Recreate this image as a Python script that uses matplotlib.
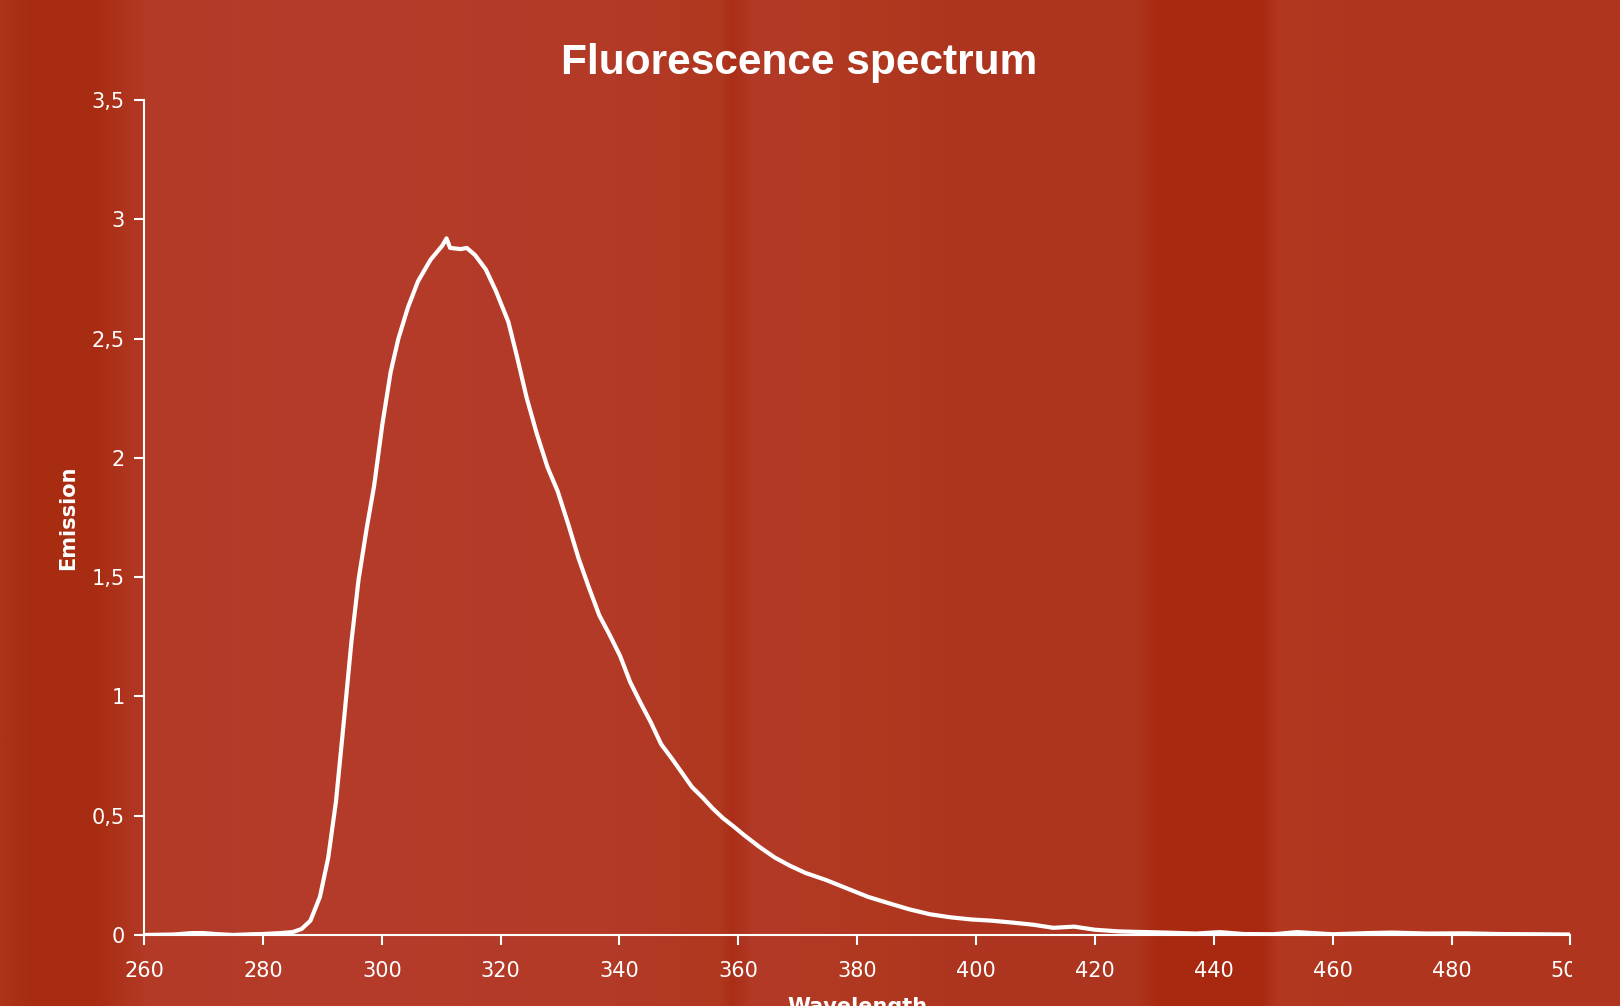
#!/usr/bin/env python3
"""Fluorescence spectrum on a red textured background"""

import numpy as np
import matplotlib
matplotlib.use("Agg")
import matplotlib.pyplot as plt
from matplotlib.colors import to_rgb
from matplotlib.transforms import Bbox, TransformedBbox

# wavelength (nm) and emission
wavelength = [260, 265, 268, 270, 272, 275, 278, 280, 283, 285, 286.5, 288,
              289.6, 291.0, 292.3, 293.6, 294.9, 296.1, 297.5, 298.7, 300.1,
              301.5, 302.8, 304.4, 306.1, 308.2, 310.2, 310.9, 311.5, 313.3,
              314.3, 315.7, 317.5, 319.2, 321.3, 322.7, 324.4, 326.1, 327.9,
              329.6, 331.4, 333.1, 334.8, 336.6, 338.3, 340.1, 341.8, 343.5,
              345.3, 347.0, 348.8, 350.5, 352.2, 354.0, 355.7, 357.4, 359.2,
              360.9, 363.5, 366.1, 368.7, 371.3, 374.8, 378.3, 381.8, 385.2,
              388.7, 392.2, 395.7, 399.2, 402.6, 406.1, 409.6, 413.0, 416.5,
              420, 424, 427, 432, 437, 441, 445, 450, 454, 460, 466, 470, 476,
              482, 488, 494, 500]
emission = [0.0, 0.002, 0.008, 0.008, 0.004, 0.0, 0.003, 0.004, 0.008, 0.012,
            0.025, 0.06, 0.16, 0.325, 0.56, 0.89, 1.23, 1.49, 1.71, 1.88, 2.14,
            2.36, 2.50, 2.63, 2.74, 2.83, 2.89, 2.92, 2.88, 2.875, 2.88, 2.85,
            2.79, 2.70, 2.57, 2.43, 2.25, 2.10, 1.96, 1.86, 1.72, 1.58, 1.46,
            1.34, 1.26, 1.17, 1.06, 0.975, 0.89, 0.80, 0.74, 0.68, 0.62, 0.576,
            0.53, 0.49, 0.455, 0.42, 0.37, 0.325, 0.29, 0.26, 0.23, 0.195,
            0.16, 0.134, 0.108, 0.087, 0.074, 0.065, 0.06, 0.052, 0.043, 0.03,
            0.035, 0.022, 0.015, 0.013, 0.01, 0.006, 0.012, 0.004, 0.003,
            0.012, 0.003, 0.008, 0.01, 0.006, 0.007, 0.004, 0.003, 0.002]

x_ticks = list(range(260, 501, 20))
y_ticks = [0, 0.5, 1, 1.5, 2, 2.5, 3, 3.5]
y_tick_labels = ["0", "0,5", "1", "1,5", "2", "2,5", "3", "3,5"]

# background colour bands (figure fraction, colour)
bg_stops = [(0.00, "#ad3418"), (0.02, "#a72c10"), (0.06, "#a92d12"),
            (0.09, "#b33a27"), (0.20, "#b53c2a"), (0.38, "#b33a27"),
            (0.445, "#b0381f"), (0.452, "#aa2e17"), (0.465, "#b33a27"),
            (0.55, "#b0381f"), (0.60, "#ad3520"), (0.70, "#ae3620"),
            (0.715, "#a82a10"), (0.78, "#a9290f"), (0.79, "#b3381f"),
            (0.85, "#b0351f"), (1.00, "#b0351f")]

fig = plt.figure(figsize=(16.2, 10.06), dpi=100)

# textured-ish background
bg = fig.add_axes([0, 0, 1, 1], zorder=-10)
cols = np.linspace(0, 1, 800)
pos = [p for p, _ in bg_stops]
rgb = np.array([to_rgb(c) for _, c in bg_stops])
img = np.stack([np.interp(cols, pos, rgb[:, k]) for k in range(3)], axis=-1)
bg.imshow(img[np.newaxis, :, :], aspect="auto", extent=[0, 1, 0, 1])
bg.set_axis_off()

ax = fig.add_axes([0.0889, 0.0706, 0.9694 - 0.0889, 0.9006 - 0.0706])
ax.patch.set_alpha(0)
ax.plot(wavelength, emission, color="white", lw=3, solid_joinstyle="round")

ax.set_xlim(260, 500)
ax.set_ylim(0, 3.5)
ax.set_xticks(x_ticks)
ax.set_yticks(y_ticks)
ax.set_yticklabels(y_tick_labels)

for side in ["top", "right"]:
    ax.spines[side].set_visible(False)
for side in ["left", "bottom"]:
    ax.spines[side].set_color("white")
    ax.spines[side].set_linewidth(1.5)
ax.tick_params(colors="white", labelsize=15, length=7, width=1.5, pad=7)
ax.tick_params(axis="x", pad=12)

ax.set_xlabel("Wavelength", color="white", fontsize=15, fontweight="bold")
ax.xaxis.set_label_coords(0.5, -0.074)
ax.xaxis.label.set_va("top")
ax.set_ylabel("Emission", color="white", fontsize=15, fontweight="bold")
ax.yaxis.set_label_coords(-0.046, 0.5)
fig.text(0.4935, 0.937, "Fluorescence spectrum", color="white", fontsize=30.5,
         fontweight="bold", family="Liberation Sans", ha="center", va="center")

# the last x tick label is cut at the plot edge in the reference
clip = TransformedBbox(Bbox([[0, 0], [0.9705, 1]]), fig.transFigure)
last = ax.get_xticklabels()[-1]
last.set_clip_on(True)
last.set_clip_box(clip)

fig.savefig("out.png", dpi=100)
